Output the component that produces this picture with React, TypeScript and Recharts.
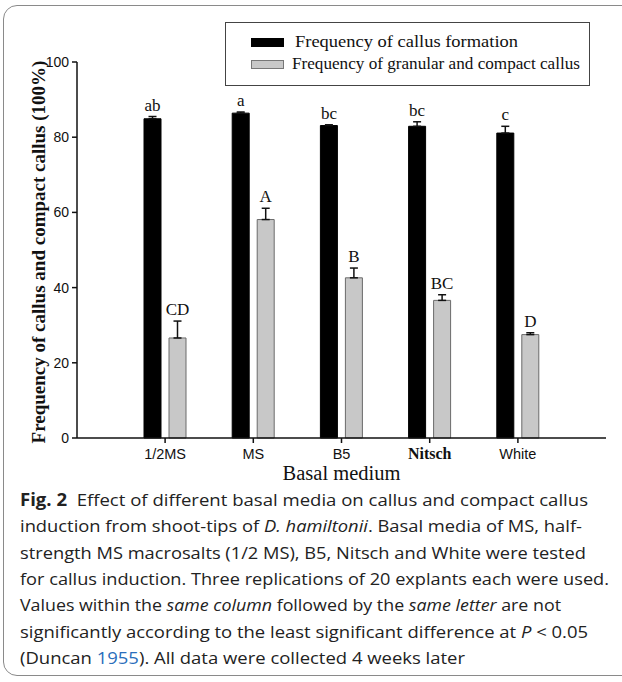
import React from "react";
import { BarChart, Bar, XAxis, YAxis, ErrorBar, LabelList } from "recharts";

const media = ["1/2MS", "MS", "B5", "Nitsch", "White"];
const callusFormation = [84.9, 86.4, 83.1, 82.9, 81.1];
const callusErr = [0.6, 0.3, 0.2, 1.2, 1.8];
const callusLetters = ["ab", "a", "bc", "bc", "c"];
const compactCallus = [26.6, 58.1, 42.6, 36.6, 27.5];
const compactErr = [4.5, 3.0, 2.6, 1.5, 0.5];
const compactLetters = ["CD", "A", "B", "BC", "D"];
const yTicks = [0, 20, 40, 60, 80, 100];

const data = media.map((m, i) => ({
  medium: m,
  callus: callusFormation[i],
  callusErr: [0, callusErr[i]],
  compact: compactCallus[i],
  compactErr: [0, compactErr[i]],
}));

const PLOT_TOP = 62;
const PLOT_H = 376;
const PX_PER_UNIT = PLOT_H / 100;

const serif = "'Liberation Serif', 'Times New Roman', serif";
const sans = "'Liberation Sans', Arial, sans-serif";

function letterLabel(letters: string[], errs: number[]) {
  return (props: any) => {
    const { x, y, width, index } = props;
    const top = y - errs[index] * PX_PER_UNIT;
    return (
      <text x={x + width / 2} y={top - 6} textAnchor="middle" fontFamily={serif} fontSize={17} fill="#111">
        {letters[index]}
      </text>
    );
  };
}

function XTick(props: any) {
  const { x, y, payload } = props;
  const bold = payload.value === "Nitsch";
  return (
    <text
      x={x}
      y={y + 14}
      textAnchor="middle"
      fontFamily={bold ? serif : sans}
      fontWeight={bold ? "bold" : "normal"}
      fontSize={bold ? 16 : 14.5}
      fill="#111"
    >
      {payload.value}
    </text>
  );
}

const captionLines = [
  { len: 568, parts: [{ t: "Fig. 2", b: true }, { t: "\u00a0 Effect of different basal media on callus and compact callus" }] },
  { len: 562, parts: [{ t: "induction from shoot-tips of " }, { t: "D. hamiltonii", i: true }, { t: ". Basal media of MS, half-" }] },
  { len: 566, parts: [{ t: "strength MS macrosalts (1/2 MS), B5, Nitsch and White were tested" }] },
  { len: 589, parts: [{ t: "for callus induction. Three replications of 20 explants each were used." }] },
  { len: 541, parts: [{ t: "Values within the " }, { t: "same column", i: true }, { t: " followed by the " }, { t: "same letter", i: true }, { t: " are not" }] },
  { len: 568, parts: [{ t: "significantly according to the least significant difference at " }, { t: "P", i: true }, { t: " < 0.05" }] },
  { len: 445, parts: [{ t: "(Duncan " }, { t: "1955", c: "#2a6ebb" }, { t: "). All data were collected 4 weeks later" }] },
];

export default function App() {
  return (
    <div style={{ position: "absolute", left: 0, top: 0, width: 622, height: 682, overflow: "hidden", background: "#fff" }}>
      <div
        style={{
          position: "absolute",
          left: 3,
          top: 5,
          width: 650,
          height: 669,
          border: "1.5px solid #8a8a8a",
          borderRadius: 14,
        }}
      />
      <div style={{ position: "absolute", left: 0, top: 0 }}>
        <BarChart
          width={622}
          height={500}
          data={data}
          margin={{ top: PLOT_TOP, right: 16, left: 0, bottom: 0 }}
          barSize={17}
          barGap={8}
        >
          <XAxis
            dataKey="medium"
            height={500 - PLOT_TOP - PLOT_H}
            padding={{ left: 44, right: 44 }}
            axisLine={{ stroke: "#111", strokeWidth: 1.5 }}
            tickLine={{ stroke: "#111", strokeWidth: 1.5 }}
            tickSize={5}
            tick={<XTick />}
            interval={0}
            label={(p: any) => {
              const vb = p.viewBox;
              return (
                <text x={vb.x + vb.width / 2} y={vb.y + 42} textAnchor="middle" fontFamily={serif} fontSize={20.5} fill="#111">
                  Basal medium
                </text>
              );
            }}
          />
          <YAxis
            width={77}
            domain={[0, 100]}
            ticks={yTicks}
            axisLine={{ stroke: "#111", strokeWidth: 1.5 }}
            tickLine={{ stroke: "#111", strokeWidth: 1.5 }}
            tickSize={5}
            tickMargin={3}
            tick={{ fontFamily: sans, fontSize: 14, fill: "#111" }}
            label={() => (
              <text
                x={38}
                y={PLOT_TOP + PLOT_H / 2 + 2}
                transform={`rotate(-90 38 ${PLOT_TOP + PLOT_H / 2 + 2})`}
                textAnchor="middle"
                dominantBaseline="central"
                fontFamily={serif}
                fontWeight="bold"
                fontSize={19}
                fill="#111"
              >
                Frequency of callus and compact callus (100%)
              </text>
            )}
          />
          <Bar dataKey="callus" fill="#000" stroke="#000" isAnimationActive={false}>
            <ErrorBar dataKey="callusErr" width={4} stroke="#111" strokeWidth={1.5} direction="y" />
            <LabelList dataKey="callus" content={letterLabel(callusLetters, callusErr)} />
          </Bar>
          <Bar dataKey="compact" fill="#c8c8c8" stroke="#6a6a6a" strokeWidth={1} isAnimationActive={false}>
            <ErrorBar dataKey="compactErr" width={4} stroke="#111" strokeWidth={1.5} direction="y" />
            <LabelList dataKey="compact" content={letterLabel(compactLetters, compactErr)} />
          </Bar>
        </BarChart>
      </div>

      <div
        style={{
          position: "absolute",
          left: 225,
          top: 22,
          width: 363,
          height: 62,
          border: "1.5px solid #444",
        }}
      >
        <div style={{ position: "absolute", left: 25, top: 15, width: 33, height: 9, background: "#000" }} />
        <div style={{ position: "absolute", left: 25, top: 37, width: 31, height: 7, background: "#c8c8c8", border: "1px solid #777" }} />
        <svg style={{ position: "absolute", left: 0, top: 0 }} width={363} height={62}>
          <text x={69} y={24} textLength={223} lengthAdjust="spacingAndGlyphs" fontFamily={serif} fontSize={17} fill="#111">
            Frequency of callus formation
          </text>
          <text x={66} y={46} textLength={288} lengthAdjust="spacingAndGlyphs" fontFamily={serif} fontSize={17} fill="#111">
            Frequency of granular and compact callus
          </text>
        </svg>
      </div>

      <svg style={{ position: "absolute", left: 0, top: 480 }} width={622} height={200}>
        {captionLines.map((line, i) => (
          <text
            key={i}
            x={20}
            y={26 + i * 26.3}
            textLength={line.len}
            lengthAdjust="spacingAndGlyphs"
            fontFamily="'Open Sans', 'Noto Sans', sans-serif"
            fontSize={17}
            fill="#222"
          >
            {line.parts.map((p: any, j) => (
              <tspan key={j} fontWeight={p.b ? "bold" : "normal"} fontStyle={p.i ? "italic" : "normal"} fill={p.c || "#222"}>
                {p.t}
              </tspan>
            ))}
          </text>
        ))}
      </svg>
    </div>
  );
}
